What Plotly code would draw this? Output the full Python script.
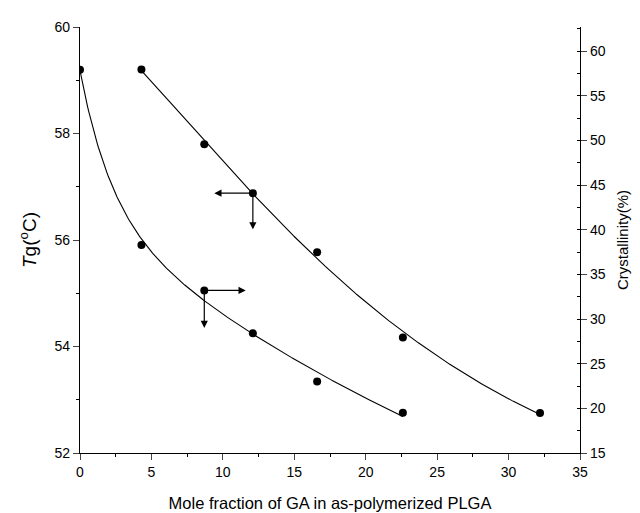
import numpy as np
import plotly.graph_objects as go

# Data
ga_tg = [4.3, 8.7, 12.1, 16.6, 22.6, 32.2]
tg_values = [59.2, 57.8, 56.88, 55.77, 54.17, 52.75]

ga_cryst = [0, 4.3, 8.7, 12.1, 16.6, 22.6]
cryst_values = [57.9, 38.3, 33.2, 28.4, 23.0, 19.5]

x_ticks = [0, 5, 10, 15, 20, 25, 30, 35]
tg_ticks = [52, 54, 56, 58, 60]
cryst_ticks = [15, 20, 25, 30, 35, 40, 45, 50, 55, 60]

FONT = "Liberation Sans, Arial, sans-serif"


def smooth_fit(x, y, n=300):
    """Least-squares fit y = a + b*exp(-c*x) + e*exp(-f*x) with a gentle fast term."""
    x = np.asarray(x, float)
    y = np.asarray(y, float)
    x0 = x.min()
    best = None
    for c in np.linspace(0.1, 0.45, 60):
        for f in np.linspace(0.002, 0.1, 60):
            A = np.column_stack([np.ones_like(x), np.exp(-c * (x - x0)), np.exp(-f * (x - x0))])
            coef, *_ = np.linalg.lstsq(A, y, rcond=None)
            err = np.sum((A @ coef - y) ** 2)
            if best is None or err < best[0]:
                best = (err, c, f, coef)
    _, c, f, (a, b, e) = best
    xs = np.linspace(x.min(), x.max(), n)
    return xs, a + b * np.exp(-c * (xs - x0)) + e * np.exp(-f * (xs - x0))


xs_tg, fit_tg = smooth_fit(ga_tg, tg_values)
xs_cr, fit_cr = smooth_fit(ga_cryst, cryst_values)

fig = go.Figure()
fig.add_trace(go.Scatter(x=xs_tg, y=fit_tg, mode="lines", line=dict(color="black", width=1.1),
                         yaxis="y", showlegend=False, hoverinfo="skip"))
fig.add_trace(go.Scatter(x=ga_tg, y=tg_values, mode="markers",
                         marker=dict(color="black", size=8), yaxis="y", showlegend=False))
fig.add_trace(go.Scatter(x=xs_cr, y=fit_cr, mode="lines", line=dict(color="black", width=1.1),
                         yaxis="y2", showlegend=False, hoverinfo="skip"))
fig.add_trace(go.Scatter(x=ga_cryst, y=cryst_values, mode="markers",
                         marker=dict(color="black", size=8), yaxis="y2", showlegend=False))

arrow_style = dict(text="", showarrow=True, arrowhead=2, arrowsize=1.2,
                   arrowwidth=1.2, arrowcolor="black")
ann = []
# Tg curve arrows (point left and down -> left axis)
p = 2
ann.append(dict(x=9.4, y=tg_values[p], ax=ga_tg[p], ay=tg_values[p], xref="x", yref="y",
                axref="x", ayref="y", **arrow_style))
ann.append(dict(x=ga_tg[p], y=56.2, ax=ga_tg[p], ay=tg_values[p], xref="x", yref="y",
                axref="x", ayref="y", **arrow_style))
# Crystallinity curve arrows (point right and down -> right axis)
q = 2
ann.append(dict(x=11.6, y=cryst_values[q], ax=ga_cryst[q], ay=cryst_values[q], xref="x", yref="y2",
                axref="x", ayref="y2", **arrow_style))
ann.append(dict(x=ga_cryst[q], y=29.0, ax=ga_cryst[q], ay=cryst_values[q], xref="x", yref="y2",
                axref="x", ayref="y2", **arrow_style))

fig.update_layout(
    width=640, height=513,
    margin=dict(l=72, r=68, t=19, b=68, autoexpand=False),
    paper_bgcolor="white", plot_bgcolor="white",
    font=dict(family=FONT, color="black", size=14),
    xaxis=dict(range=[0, 35], tickvals=x_ticks, ticks="outside", ticklen=6, tickwidth=1,
               showline=True, linecolor="black", linewidth=1.2, showgrid=False, zeroline=False,
               minor=dict(dtick=2.5, ticks="outside", ticklen=3, tickcolor="black"),
               title=dict(text="Mole fraction of GA in as-polymerized PLGA", font=dict(size=16.5), standoff=18),
               tickfont=dict(size=14), automargin=False),
    xaxis2=dict(range=[0, 35], tickvals=x_ticks, ticks="inside", ticklen=6, overlaying="x",
                side="top", anchor="y", showticklabels=False, showline=True, linecolor="black",
                linewidth=1.2, showgrid=False, zeroline=False,
                minor=dict(dtick=2.5, ticks="inside", ticklen=3, tickcolor="black")),
    yaxis=dict(range=[52, 60], tickvals=tg_ticks, ticks="outside", ticklen=6, showline=True,
               linecolor="black", linewidth=1.2, showgrid=False, zeroline=False,
               minor=dict(dtick=1, ticks="outside", ticklen=3, tickcolor="black"),
               title=dict(text="<i>T</i>g(<sup>o</sup>C)", font=dict(size=19), standoff=12),
               tickfont=dict(size=14), automargin=False),
    yaxis2=dict(range=[15, 62.7], tickvals=cryst_ticks, ticks="outside", ticklen=6,
                overlaying="y", side="right", anchor="x", showline=True, linecolor="black",
                linewidth=1.2, showgrid=False, zeroline=False,
                minor=dict(dtick=2.5, ticks="inside", ticklen=3, tickcolor="black"),
                title=dict(text="Crystallinity(%)", font=dict(size=15), standoff=12),
                tickfont=dict(size=14), automargin=False),
    annotations=ann,
)
fig.write_html("out.html")
